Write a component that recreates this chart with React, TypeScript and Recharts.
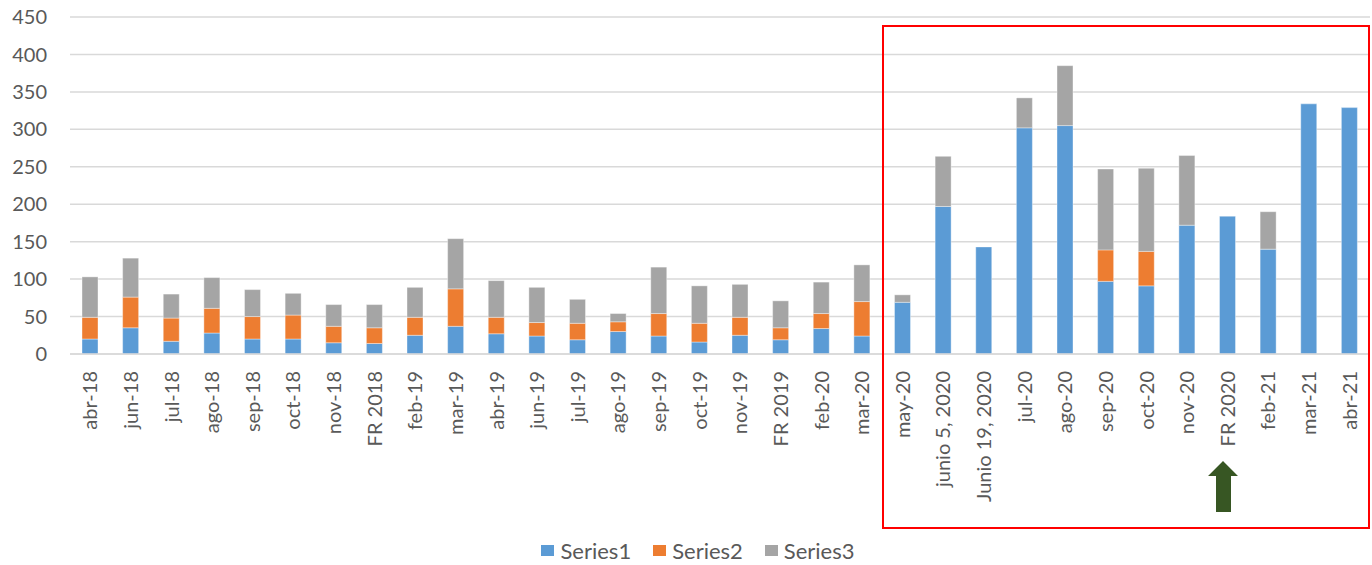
import React from 'react';
import { BarChart, Bar, XAxis, YAxis, CartesianGrid, Legend } from 'recharts';

const categories = [
  'abr-18', 'jun-18', 'jul-18', 'ago-18', 'sep-18', 'oct-18', 'nov-18', 'FR 2018',
  'feb-19', 'mar-19', 'abr-19', 'jun-19', 'jul-19', 'ago-19', 'sep-19', 'oct-19',
  'nov-19', 'FR 2019', 'feb-20', 'mar-20', 'may-20', 'junio 5, 2020', 'Junio 19, 2020', 'jul-20',
  'ago-20', 'sep-20', 'oct-20', 'nov-20', 'FR 2020', 'feb-21', 'mar-21', 'abr-21',
];

const series1 = [
  20, 35, 17, 28, 20, 20, 15, 14,
  25, 37, 27, 24, 19, 30, 24, 16,
  25, 19, 34, 24, 69, 197, 143, 302,
  305, 97, 91, 172, 184, 140, 334, 329,
];

const series2 = [
  29, 41, 31, 33, 30, 32, 22, 21,
  24, 50, 22, 18, 22, 13, 30, 25,
  24, 16, 20, 46, 0, 0, 0, 0,
  0, 42, 46, 0, 0, 0, 0, 0,
];

const series3 = [
  54, 52, 32, 41, 36, 29, 29, 31,
  40, 67, 49, 47, 32, 11, 62, 50,
  44, 36, 42, 49, 10, 67, 0, 40,
  80, 108, 111, 93, 0, 50, 0, 0,
];

const yTicks = [0, 50, 100, 150, 200, 250, 300, 350, 400, 450];

const chartData = categories.map((name, i) => ({
  name,
  Series1: series1[i],
  Series2: series2[i],
  Series3: series3[i],
}));

const FONT = 'Lato, "Open Sans", sans-serif';
const TEXT = '#595959';

const seriesInfo = [
  { key: 'Series1', color: '#5B9BD5' },
  { key: 'Series2', color: '#ED7D31' },
  { key: 'Series3', color: '#A5A5A5' },
];

const XTick = ({ x, y, payload }: any) => (
  <text
    x={x}
    y={y + 17}
    transform={`rotate(-90, ${x}, ${y + 17})`}
    textAnchor="end"
    dy="0.35em"
    fill={TEXT}
    fontSize={20}
    fontFamily={FONT}
  >
    {payload.value}
  </text>
);

const LegendBox = () => (
  <div
    style={{
      display: 'flex',
      justifyContent: 'center',
      alignItems: 'center',
      paddingLeft: 48,
      paddingTop: 8,
      fontFamily: FONT,
      fontSize: 22,
      color: TEXT,
    }}
  >
    {seriesInfo.map((s) => (
      <div key={s.key} style={{ display: 'flex', alignItems: 'center', marginRight: 22 }}>
        <span style={{ width: 13, height: 11, background: s.color, marginRight: 6, display: 'inline-block' }} />
        <span>{s.key}</span>
      </div>
    ))}
  </div>
);

export default function App() {
  return (
    <div style={{ position: 'absolute', left: 0, top: 0, width: 1372, height: 565, background: '#fff' }}>
      <BarChart
        width={1372}
        height={565}
        data={chartData}
        margin={{ top: 17, right: 2, left: 0, bottom: 0 }}
        barSize={16}
      >
        <CartesianGrid vertical={false} stroke="#D9D9D9" strokeWidth={1.5} />
        <XAxis
          dataKey="name"
          interval={0}
          height={175}
          tickLine={false}
          tickSize={0}
          tickMargin={0}
          axisLine={{ stroke: '#D9D9D9', strokeWidth: 1.5 }}
          tick={<XTick />}
        />
        <YAxis
          width={70}
          domain={[0, 450]}
          ticks={yTicks}
          axisLine={false}
          tickLine={false}
          tickSize={0}
          tickMargin={23}
          tick={{ fill: TEXT, fontSize: 20, fontFamily: FONT }}
        />
        <Legend verticalAlign="bottom" height={36} content={<LegendBox />} />
        {seriesInfo.map((s) => (
          <Bar
            key={s.key}
            dataKey={s.key}
            stackId="a"
            fill={s.color}
            stroke="#ffffff"
            strokeOpacity={0.5}
            strokeWidth={0.75}
            isAnimationActive={false}
          />
        ))}
      </BarChart>
      {/* annotations: highlight box and arrow */}
      <svg
        width={1372}
        height={565}
        style={{ position: 'absolute', left: 0, top: 0, pointerEvents: 'none' }}
      >
        <rect x={883} y={26} width={486} height={502} fill="none" stroke="#FF0000" strokeWidth={2} />
        <polygon
          points="1223,461 1238,476 1231,476 1231,512 1216,512 1216,476 1208,476"
          fill="#375623"
        />
      </svg>
    </div>
  );
}
